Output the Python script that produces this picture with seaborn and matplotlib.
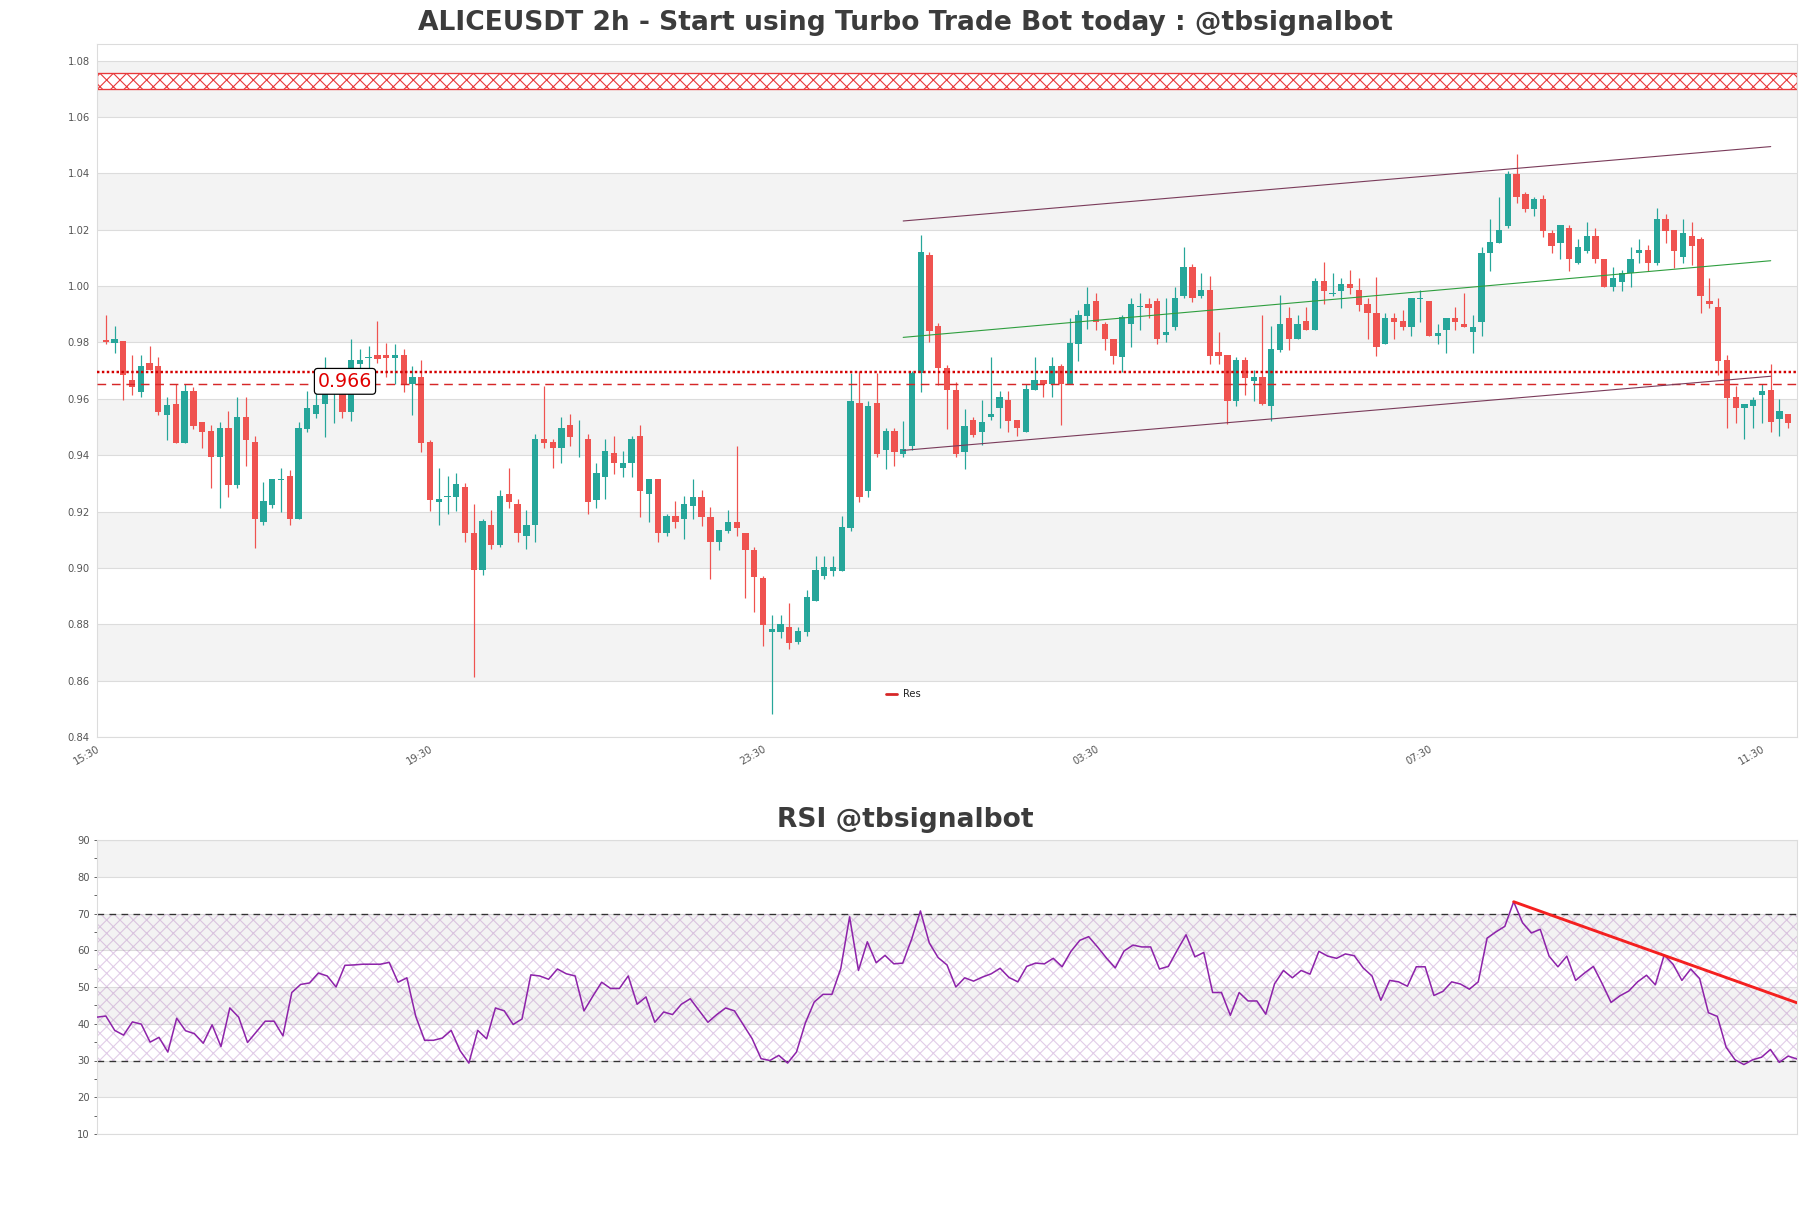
import numpy as np
import pandas as pd
import matplotlib
matplotlib.use("Agg")
import matplotlib.pyplot as plt
from matplotlib.lines import Line2D
import seaborn as sns

# ---------------- data ----------------
opens = [.9810,.9797,.9805,.9666,.9625,.9728,.9716,.9542,.9583,.9444,.9627,.9518,.9486,.9394,.9497,.9294,.9536,.9447,.9163,.9222,
         .9313,.9325,.9173,.9494,.9545,.9583,.9625,.9631,.9554,.9725,.9745,.9755,.9755,.9746,.9755,.9652,.9676,.9445,.9234,.9251,
         .9253,.9286,.9125,.8994,.9154,.9081,.9264,.9226,.9112,.9154,.9457,.9445,.9424,.9506,.9456,.9457,.9240,.9323,.9406,.9353,
         .9373,.9467,.9264,.9314,.9124,.9183,.9175,.9221,.9253,.9182,.9091,.9130,.9164,.9124,.9065,.8963,.8772,.8772,.8792,.8738,
         .8772,.8882,.8972,.8989,.8989,.9141,.9585,.9272,.9585,.9420,.9485,.9405,.9431,.9690,1.0110,.9860,.9710,.9632,.9411,.9524,
         .9483,.9534,.9566,.9595,.9524,.9483,.9633,.9666,.9654,.9716,.9654,.9796,.9895,.9947,.9867,.9814,.9747,.9864,.9925,.9936,
         .9947,.9825,.9856,.9966,1.0069,.9966,.9986,.9767,.9755,.9593,.9737,.9664,.9676,.9574,.9773,.9885,.9813,.9876,.9844,1.0018,
         .9973,.9983,1.0006,.9986,.9936,.9906,.9794,.9885,.9876,.9856,.9955,.9947,.9823,.9844,.9885,.9865,.9836,.9873,1.0116,1.0154,
         1.0213,1.0398,1.0327,1.0273,1.0308,1.0187,1.0154,1.0205,1.0083,1.0125,1.0178,1.0096,.9995,1.0015,1.0045,1.0116,1.0128,1.0083,1.0238,1.0199,
         1.0104,1.0178,1.0167,.9947,.9927,.9737,.9605,.9566,.9576,.9615,.9633,.9527,.9546]
highs = [.9897,.9858,.9805,.9755,.9755,.9787,.9747,.9607,.9654,.9654,.9643,.9518,.9506,.9518,.9557,.9605,.9605,.9469,.9305,.9315,
         .9355,.9347,.9516,.9627,.9631,.9749,.9660,.9643,.9814,.9775,.9787,.9876,.9799,.9796,.9775,.9716,.9737,.9453,.9353,.9325,
         .9337,.9303,.9225,.9175,.9205,.9276,.9353,.9243,.9205,.9474,.9645,.9457,.9536,.9545,.9524,.9474,.9373,.9456,.9467,.9414,
         .9467,.9506,.9314,.9314,.9193,.9237,.9254,.9314,.9275,.9215,.9133,.9204,.9434,.9124,.9073,.8973,.8834,.8834,.8875,.8792,
         .8923,.9044,.9043,.9043,.9185,.9690,.9700,.9594,.9690,.9496,.9496,.9523,.9700,1.0180,1.0120,.9870,.9720,.9660,.9564,.9536,
         .9595,.9749,.9628,.9628,.9524,.9654,.9749,.9666,.9749,.9725,.9885,.9915,.9998,.9974,.9873,.9814,.9897,.9956,.9974,.9956,
         .9956,.9956,.9998,1.0140,1.0078,1.0045,1.0036,.9838,.9755,.9749,.9749,.9702,.9897,.9858,.9968,.9927,.9897,.9927,1.0030,1.0085,
         1.0047,1.0030,1.0057,1.0030,.9956,1.0033,.9905,.9905,.9915,.9956,.9986,.9947,.9865,.9885,.9927,.9974,.9897,1.0137,1.0237,1.0315,
         1.0409,1.0469,1.0335,1.0315,1.0323,1.0199,1.0217,1.0217,1.0167,1.0228,1.0205,1.0096,1.0069,1.0057,1.0137,1.0167,1.0146,1.0276,1.0256,1.0199,
         1.0238,1.0228,1.0175,1.0027,.9956,.9755,.9645,.9583,.9607,.9654,.9725,.9598,.9546]
lows = [.9795,.9763,.9595,.9613,.9605,.9702,.9542,.9453,.9444,.9444,.9494,.9424,.9284,.9213,.9252,.9285,.9361,.9072,.9151,.9214,
        .9199,.9151,.9173,.9483,.9533,.9465,.9514,.9533,.9521,.9696,.9696,.9728,.9676,.9653,.9625,.9542,.9412,.9202,.9151,.9193,
        .9202,.9092,.8613,.8974,.9066,.9073,.9214,.9092,.9066,.9092,.9424,.9353,.9373,.9432,.9394,.9193,.9214,.9243,.9334,.9323,
        .9323,.9181,.9163,.9092,.9112,.9140,.9103,.9174,.9150,.8961,.9062,.9123,.9112,.8892,.8843,.8722,.8482,.8750,.8712,.8730,
        .8760,.8882,.8961,.8971,.8989,.9130,.9233,.9251,.9393,.9351,.9360,.9393,.9417,.9625,.9800,.9650,.9494,.9393,.9351,.9465,
        .9436,.9524,.9495,.9483,.9467,.9483,.9633,.9605,.9605,.9507,.9654,.9735,.9846,.9844,.9773,.9725,.9696,.9785,.9844,.9885,
        .9796,.9802,.9844,.9956,.9944,.9956,.9725,.9725,.9512,.9574,.9613,.9593,.9577,.9522,.9767,.9773,.9813,.9844,.9844,.9936,
        .9964,.9924,.9972,.9911,.9811,.9751,.9794,.9811,.9844,.9823,.9873,.9824,.9796,.9763,.9844,.9856,.9763,.9823,1.0054,1.0154,
        1.0205,1.0296,1.0264,1.0249,1.0175,1.0116,1.0095,1.0054,1.0078,1.0116,1.0083,.9995,.9983,.9983,.9995,1.0083,1.0054,1.0075,1.0154,1.0065,
        1.0083,1.0075,.9905,.9923,.9684,.9495,.9515,.9456,.9495,.9515,.9483,.9467,.9495]
closes = [.9800,.9814,.9686,.9643,.9716,.9702,.9554,.9578,.9444,.9627,.9503,.9483,.9394,.9497,.9294,.9536,.9453,.9173,.9238,.9315,
          .9315,.9173,.9497,.9568,.9578,.9631,.9637,.9554,.9737,.9737,.9747,.9743,.9746,.9755,.9652,.9676,.9444,.9240,.9244,.9253,
          .9297,.9124,.8994,.9166,.9081,.9255,.9234,.9124,.9154,.9457,.9444,.9424,.9497,.9465,.9458,.9234,.9337,.9414,.9373,.9374,
          .9457,.9273,.9314,.9124,.9183,.9163,.9226,.9253,.9180,.9091,.9133,.9162,.9141,.9062,.8969,.8799,.8783,.8801,.8733,.8775,
          .8896,.8994,.9003,.9003,.9144,.9594,.9251,.9576,.9405,.9485,.9411,.9423,.9690,1.0120,.9840,.9710,.9632,.9405,.9505,.9471,
          .9518,.9546,.9607,.9522,.9495,.9634,.9666,.9654,.9716,.9654,.9799,.9897,.9936,.9873,.9814,.9753,.9891,.9936,.9927,.9924,
          .9813,.9838,.9956,1.0069,.9956,.9986,.9753,.9753,.9593,.9737,.9675,.9676,.9583,.9776,.9865,.9813,.9865,.9844,1.0018,.9983,
          .9975,1.0006,.9994,.9933,.9903,.9785,.9885,.9873,.9856,.9956,.9957,.9824,.9834,.9885,.9873,.9856,.9856,1.0116,1.0155,1.0199,
          1.0398,1.0315,1.0273,1.0308,1.0196,1.0142,1.0217,1.0095,1.0140,1.0178,1.0095,.9995,1.0030,1.0045,1.0096,1.0128,1.0083,1.0238,1.0196,1.0125,
          1.0187,1.0142,.9966,.9935,.9735,.9604,.9566,.9583,.9595,.9627,.9516,.9557,.9515]
rsi = [41.8,42.1,38.2,36.9,40.5,39.9,35.0,36.3,32.3,41.5,38.1,37.3,34.7,39.7,33.8,44.3,41.8,34.9,37.8,40.7,
       40.7,36.7,48.5,50.7,51.1,53.8,53.0,50.0,55.9,56.0,56.2,56.2,56.2,56.7,51.3,52.5,42.0,35.5,35.5,36.1,
       38.2,32.7,29.3,38.2,35.9,44.3,43.5,39.8,41.3,53.3,53.0,52.1,54.9,53.6,53.0,43.5,47.5,51.3,49.6,49.6,
       53.0,45.3,47.3,40.4,43.2,42.5,45.3,46.8,43.6,40.4,42.5,44.3,43.5,39.7,35.9,30.5,30.0,31.4,29.3,32.3,
       40.2,45.9,48.0,48.0,55.0,69.1,54.5,62.3,56.6,58.6,56.3,56.5,63.0,70.7,62.0,58.0,56.0,50.0,52.5,51.6,
       52.7,53.6,55.1,52.6,51.4,55.6,56.5,56.3,57.8,55.5,59.7,62.7,63.7,60.9,57.9,55.2,59.8,61.4,60.9,60.9,
       54.9,55.6,60.0,64.2,58.2,59.4,48.5,48.5,42.3,48.5,46.2,46.2,42.6,50.9,54.5,52.5,54.5,53.5,59.7,58.4,
       57.8,59.0,58.5,55.2,53.0,46.4,51.8,51.4,50.2,55.5,55.5,47.7,48.8,51.4,50.8,49.4,51.4,63.3,65.0,66.5,
       73.2,67.5,64.7,65.7,58.4,55.5,58.4,51.8,53.8,55.6,50.9,45.8,47.6,48.9,51.4,53.2,50.6,58.7,56.2,51.8,
       54.9,52.3,43.0,42.0,33.6,30.2,28.9,30.2,30.9,33.0,29.5,31.2,30.4]
time_labels = ["15:30", "19:30", "23:30", "03:30", "07:30", "11:30"]

# channel / trend lines (index, value)
channel_idx = [91, 190]
channel_upper = [1.0231, 1.0495]
channel_mid = [0.9818, 1.0090]
channel_lower = [0.9417, 0.9680]
res_dotted = 0.9694
res_dashed = 0.9654
res_label = "0.966"
zone_low, zone_high = 1.0701, 1.0755
rsi_trend_idx = [160, 192]
rsi_trend_val = [73.2, 45.7]

df = pd.DataFrame({"open": opens, "high": highs, "low": lows, "close": closes})
df["idx"] = np.arange(len(df))
rsi_df = pd.DataFrame({"idx": np.arange(len(rsi)), "rsi": rsi})

# ---------------- style ----------------
sns.set_theme(style="white")
plt.rcParams["font.family"] = ["DejaVu Sans"]
plt.rcParams["hatch.linewidth"] = 1.0
TXT = "#3c3c3c"
TICK = "#555555"
GRID = "#dcdcdc"
BAND = "#f3f3f3"
GREEN = "#26a69a"
RED = "#ef5350"

DPI = 80
W, H = 1811, 1208
fig = plt.figure(figsize=(W / DPI, H / DPI), dpi=DPI)
fig.patch.set_facecolor("white")
ax = fig.add_axes([97 / W, 1 - 737 / H, 1700 / W, 693 / H])
ax2 = fig.add_axes([97 / W, 1 - 1134 / H, 1700 / W, 294 / H])

# ---------------- price panel ----------------
for y0 in np.arange(0.86, 1.08, 0.04):
    ax.axhspan(y0, y0 + 0.02, color=BAND, zorder=0, lw=0)
ax.set_yticks(np.round(np.arange(0.84, 1.0801, 0.02), 2))
ax.yaxis.grid(True, color=GRID, lw=1, zorder=0.5)
ax.set_axisbelow(True)

up = df["close"] >= df["open"]
colors = np.where(up, GREEN, RED)
ax.vlines(df["idx"], df["low"], df["high"], colors=colors, lw=1.1, zorder=2)
body_lo = np.minimum(df["open"], df["close"])
body_h = np.maximum(np.abs(df["close"] - df["open"]), 0.0003)
ax.bar(df["idx"], body_h, bottom=body_lo, width=0.72, color=colors, zorder=3, lw=0)

# supply zone
ax.axhspan(zone_low, zone_high, facecolor="white", edgecolor="#e8393a", hatch="xx", lw=1.2, zorder=1)

# resistance lines
ax.axhline(res_dotted, color="#d40000", lw=2.2, ls=(0, (1, 1)), zorder=4)
ax.axhline(res_dashed, color="#d62728", lw=1.3, ls=(0, (6, 4)), zorder=4)
ax.text(27.3, 0.9662, res_label, color="#e00000", fontsize=17, ha="center", va="center", zorder=6,
        bbox=dict(boxstyle="round,pad=0.18", fc="white", ec="black", lw=1.1))

# channel
ax.plot(channel_idx, channel_upper, color="#7a3b5a", lw=1.0, zorder=4)
ax.plot(channel_idx, channel_lower, color="#7a3b5a", lw=1.0, zorder=4)
ax.plot(channel_idx, channel_mid, color="#2e9e3e", lw=1.0, zorder=4)

ax.set_xlim(-1, len(df))
ax.set_ylim(0.84, 1.0859)
ax.set_xticks([-1 + 38 * k for k in range(len(time_labels))])
ax.set_xticklabels(time_labels, rotation=30, ha="right", rotation_mode="anchor")
ax.set_yticklabels([f"{v:.2f}" for v in ax.get_yticks()])
ax.tick_params(axis="both", labelsize=9, colors=TICK, length=3, width=0.8)
for s in ax.spines.values():
    s.set_color(GRID)
    s.set_linewidth(1)
ax.set_xlabel("")
ax.set_ylabel("")

leg = ax.legend(handles=[Line2D([0], [0], color="#d62728", lw=2.5)], labels=["Res"],
                loc="center left", bbox_to_anchor=(0.459, 0.062), frameon=False,
                fontsize=9, handlelength=1.1, handletextpad=0.6)
for t in leg.get_texts():
    t.set_color("#222222")

fig.text(0.5, 1 - 23 / H, "ALICEUSDT 2h - Start using Turbo Trade Bot today : @tbsignalbot",
         ha="center", va="center", fontsize=23.8, fontweight="bold", color=TXT)

# ---------------- RSI panel ----------------
for y0 in [20, 40, 60, 80]:
    ax2.axhspan(y0, y0 + 10, color=BAND, zorder=0, lw=0)
ax2.axhspan(30, 70, facecolor="none", edgecolor=(0.62, 0.35, 0.70, 0.3), hatch="xx", lw=0, zorder=0.6)
ax2.set_yticks(np.arange(10, 91, 10))
ax2.set_yticks(np.arange(15, 90, 10), minor=True)
ax2.yaxis.grid(True, which="major", color=GRID, lw=1, zorder=0.5)
ax2.set_axisbelow(True)
ax2.axhline(70, color="#333333", lw=1.2, ls=(0, (5, 4)), zorder=2)
ax2.axhline(30, color="#333333", lw=1.2, ls=(0, (5, 4)), zorder=2)

sns.lineplot(data=rsi_df, x="idx", y="rsi", ax=ax2, color="#8e24aa", lw=1.4, zorder=3)
ax2.plot(rsi_trend_idx, rsi_trend_val, color="#f42020", lw=2.6, zorder=4)

ax2.set_xlim(0, len(rsi) - 1)
ax2.set_ylim(10, 90)
ax2.set_xticks([])
ax2.set_xlabel("")
ax2.set_ylabel("")
ax2.tick_params(axis="y", which="both", labelsize=9, colors=TICK, length=3, width=0.8, left=True)
for s in ax2.spines.values():
    s.set_color(GRID)
    s.set_linewidth(1)

fig.text(0.5, 1 - 820 / H, "RSI @tbsignalbot", ha="center", va="center",
         fontsize=23.8, fontweight="bold", color=TXT)

fig.savefig("out.png", dpi=DPI, facecolor="white")
